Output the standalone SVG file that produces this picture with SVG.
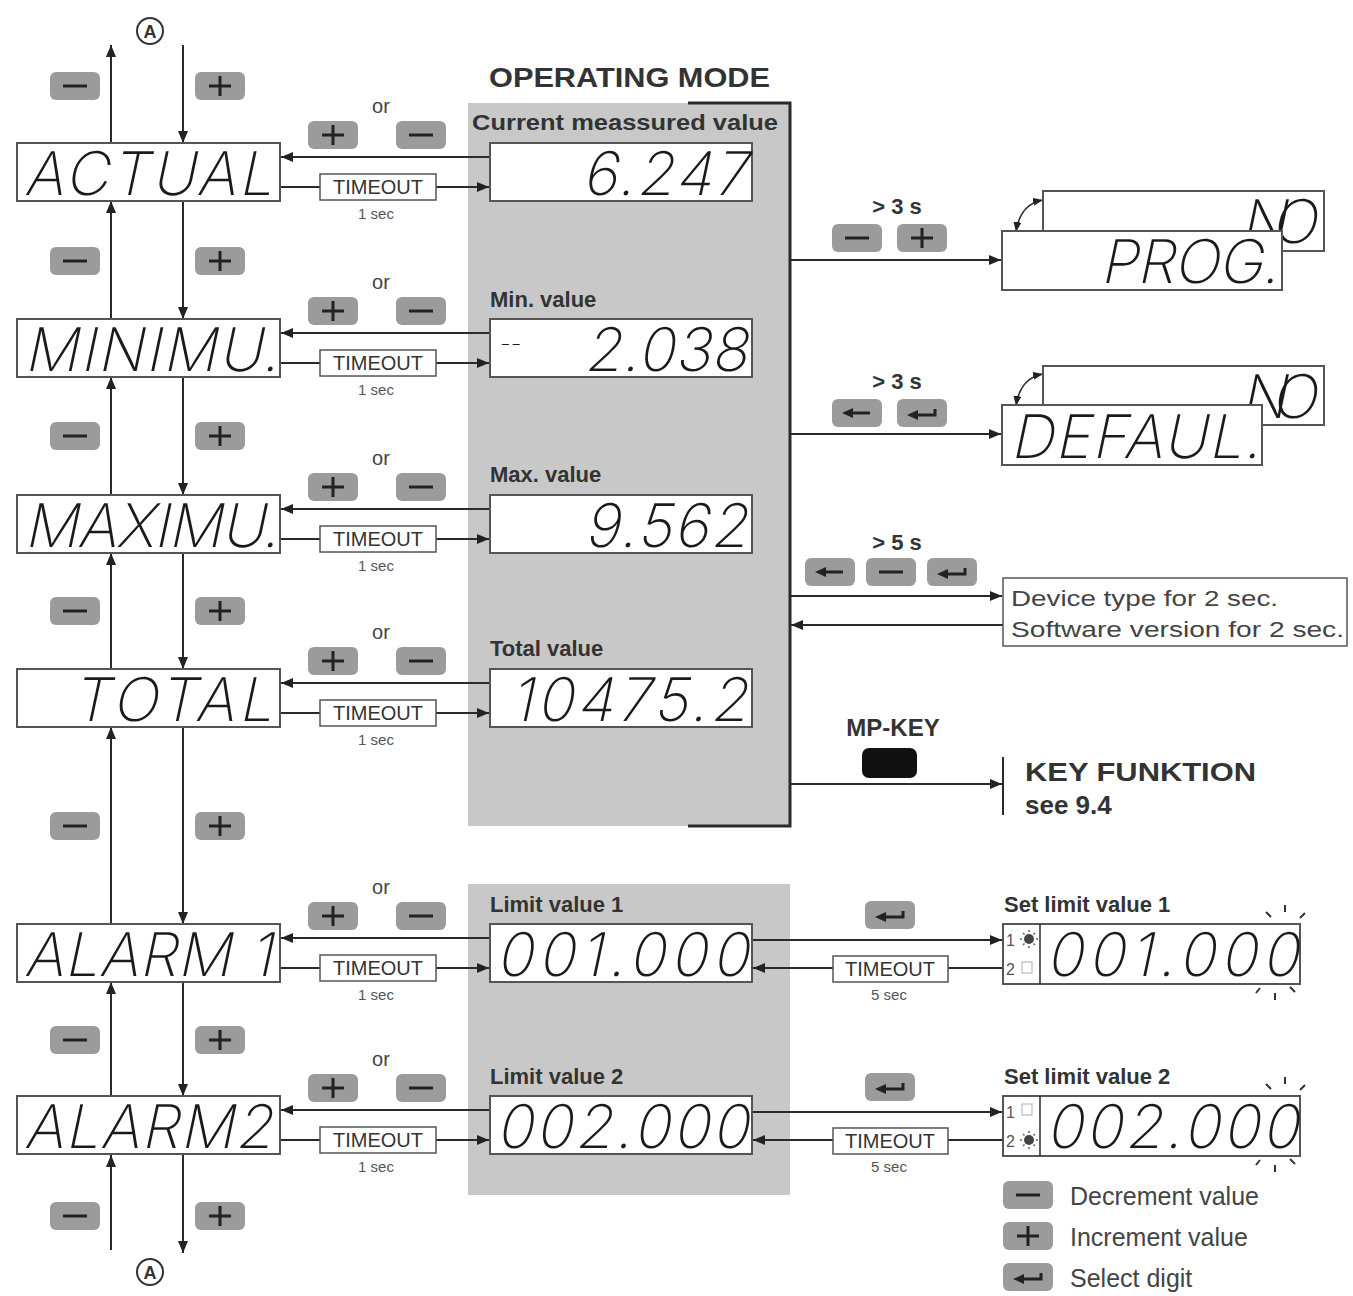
<svg xmlns="http://www.w3.org/2000/svg" xmlns:xlink="http://www.w3.org/1999/xlink" width="1353" height="1296" viewBox="0 0 1353 1296">
<style>
.bg{fill:#ffffff}
.panel{fill:#c8c8c8}
.disp{fill:#ffffff;stroke:#555;stroke-width:2}
.seg{font-family:Inter,"Noto Sans","Liberation Sans",sans-serif;font-weight:200;font-size:60px;fill:#1a1a1a}
.ln{stroke:#2a2a2a;stroke-width:2;fill:none}
.arr{stroke:#2a2a2a;stroke-width:2;fill:none;marker-end:url(#ah)}
.lbl{font-family:"Liberation Sans",Arial,sans-serif;font-weight:bold;font-size:22px;fill:#333}
.or{font-family:"Liberation Sans",Arial,sans-serif;font-size:20px;fill:#444}
.to{fill:#fff;stroke:#555;stroke-width:1.5}
.tot{font-family:"Liberation Sans",Arial,sans-serif;font-size:20px;fill:#333;text-anchor:middle}
.sec{font-family:"Liberation Sans",Arial,sans-serif;font-size:15px;fill:#555;text-anchor:middle}
.txt{font-family:"Liberation Sans",Arial,sans-serif;font-size:22px;fill:#444}
.leg{font-family:"Liberation Sans",Arial,sans-serif;font-size:25px;fill:#444}
.btnr{fill:#9b9b9b}
.ico{stroke:#222;stroke-width:3;fill:none}
</style>
<defs>
<marker id="ah" viewBox="0 0 12 10" refX="12" refY="5" markerWidth="12" markerHeight="10" markerUnits="userSpaceOnUse" orient="auto-start-reverse"><path d="M0,0 L12,5 L0,10 z" fill="#222"/></marker>
<marker id="ahs" viewBox="0 0 10 8" refX="10" refY="4" markerWidth="10" markerHeight="8" markerUnits="userSpaceOnUse" orient="auto-start-reverse"><path d="M0,0 L10,4 L0,8 z" fill="#222"/></marker>
<symbol id="bminus" viewBox="0 0 50 28" width="50" height="28"><rect class="btnr" x="0" y="0" width="50" height="28" rx="6"/><path class="ico" d="M13,14 H37"/></symbol>
<symbol id="bplus" viewBox="0 0 50 28" width="50" height="28"><rect class="btnr" x="0" y="0" width="50" height="28" rx="6"/><path class="ico" d="M14,14 H36 M25,4 V24"/></symbol>
<symbol id="bleft" viewBox="0 0 50 28" width="50" height="28"><rect class="btnr" x="0" y="0" width="50" height="28" rx="6"/><path d="M20,14 H38" class="ico"/><path d="M10,14 L21,9 L21,19 z" fill="#222"/></symbol>
<symbol id="benter" viewBox="0 0 50 28" width="50" height="28"><rect class="btnr" x="0" y="0" width="50" height="28" rx="6"/><path d="M20,16 H38 V10" class="ico"/><path d="M10,16 L21,11 L21,21 z" fill="#222"/></symbol>
</defs>
<rect class="bg" x="0" y="0" width="1353" height="1296"/>

<g id="panels">
<rect class="panel" x="468" y="103" width="322" height="723"/>
<rect class="panel" x="468" y="884" width="322" height="311"/>
<path class="ln" d="M688,103 H790 V826 H688" style="stroke-width:3"/>
<text class="lbl" x="489" y="87" style="font-size:27px" textLength="281" lengthAdjust="spacingAndGlyphs">OPERATING MODE</text>
</g>

<g id="connectors">
<path class="arr" d="M111,143 V45"/>
<path class="arr" d="M183,45 V143"/>
<path class="arr" d="M111,319 V201"/>
<path class="arr" d="M183,201 V319"/>
<path class="arr" d="M111,495 V377"/>
<path class="arr" d="M183,377 V495"/>
<path class="arr" d="M111,669 V553"/>
<path class="arr" d="M183,553 V669"/>
<path class="arr" d="M111,924 V727"/>
<path class="arr" d="M183,727 V924"/>
<path class="arr" d="M111,1096 V982"/>
<path class="arr" d="M183,982 V1096"/>
<path class="arr" d="M111,1250 V1155"/>
<path class="arr" d="M183,1155 V1253"/>
<path class="arr" d="M490,157 H281"/>
<path class="arr" d="M280,187 H489"/>
<path class="arr" d="M490,333 H281"/>
<path class="arr" d="M280,363 H489"/>
<path class="arr" d="M490,509 H281"/>
<path class="arr" d="M280,539 H489"/>
<path class="arr" d="M490,683 H281"/>
<path class="arr" d="M280,713 H489"/>
<path class="arr" d="M490,938 H281"/>
<path class="arr" d="M280,968 H489"/>
<path class="arr" d="M490,1110 H281"/>
<path class="arr" d="M280,1140 H489"/>
<path class="arr" d="M790,260 H1001"/>
<path class="arr" d="M790,434 H1001"/>
<path class="arr" d="M790,596 H1002"/>
<path class="arr" d="M1003,625 H791"/>
<path class="arr" d="M790,784 H1002"/>
<path class="ln" d="M1003,757 V815"/>
<path class="arr" d="M752,940 H1002"/>
<path class="arr" d="M1003,968 H753"/>
<path class="arr" d="M752,1112 H1002"/>
<path class="arr" d="M1003,1140 H753"/>
<path class="ln" d="M1016,232 Q1020,204 1043,200" style="marker-start:url(#ahs);marker-end:url(#ahs);stroke-width:1.5"/>
<path class="ln" d="M1016,406 Q1020,378 1043,374" style="marker-start:url(#ahs);marker-end:url(#ahs);stroke-width:1.5"/>
</g>

<g id="buttons">
<use href="#bminus" x="50" y="72"/><use href="#bplus" x="195" y="72"/>
<use href="#bminus" x="50" y="247"/><use href="#bplus" x="195" y="247"/>
<use href="#bminus" x="50" y="422"/><use href="#bplus" x="195" y="422"/>
<use href="#bminus" x="50" y="597"/><use href="#bplus" x="195" y="597"/>
<use href="#bminus" x="50" y="812"/><use href="#bplus" x="195" y="812"/>
<use href="#bminus" x="50" y="1026"/><use href="#bplus" x="195" y="1026"/>
<use href="#bminus" x="50" y="1202"/><use href="#bplus" x="195" y="1202"/>
<use href="#bplus" x="308" y="121"/><use href="#bminus" x="396" y="121"/>
<use href="#bplus" x="308" y="297"/><use href="#bminus" x="396" y="297"/>
<use href="#bplus" x="308" y="473"/><use href="#bminus" x="396" y="473"/>
<use href="#bplus" x="308" y="647"/><use href="#bminus" x="396" y="647"/>
<use href="#bplus" x="308" y="902"/><use href="#bminus" x="396" y="902"/>
<use href="#bplus" x="308" y="1074"/><use href="#bminus" x="396" y="1074"/>
<use href="#bminus" x="832" y="224"/><use href="#bplus" x="897" y="224"/>
<use href="#bleft" x="832" y="399"/><use href="#benter" x="897" y="399"/>
<use href="#bleft" x="805" y="558"/><use href="#bminus" x="866" y="558"/><use href="#benter" x="927" y="558"/>
<use href="#benter" x="865" y="901"/>
<use href="#benter" x="865" y="1073"/>
</g>

<g id="labels">
<text class="or" x="381" y="113" text-anchor="middle">or</text>
<text class="or" x="381" y="289" text-anchor="middle">or</text>
<text class="or" x="381" y="465" text-anchor="middle">or</text>
<text class="or" x="381" y="639" text-anchor="middle">or</text>
<text class="or" x="381" y="894" text-anchor="middle">or</text>
<text class="or" x="381" y="1066" text-anchor="middle">or</text>
<text class="lbl" x="472" y="130" textLength="306" lengthAdjust="spacingAndGlyphs">Current meassured value</text>
<text class="lbl" x="490" y="307">Min. value</text>
<text class="lbl" x="490" y="482">Max. value</text>
<text class="lbl" x="490" y="656">Total value</text>
<text class="lbl" x="490" y="912">Limit value 1</text>
<text class="lbl" x="490" y="1084">Limit value 2</text>
<text class="lbl" x="897" y="214" text-anchor="middle">&gt; 3 s</text>
<text class="lbl" x="897" y="389" text-anchor="middle">&gt; 3 s</text>
<text class="lbl" x="897" y="550" text-anchor="middle">&gt; 5 s</text>
<text class="lbl" x="893" y="736" text-anchor="middle" style="font-size:24px">MP-KEY</text>
<rect x="862" y="748" width="55" height="30" rx="7" fill="#111"/>
<text class="lbl" x="1025" y="781" style="font-size:26px" textLength="231" lengthAdjust="spacingAndGlyphs">KEY FUNKTION</text>
<text class="lbl" x="1025" y="814" style="font-size:26px">see 9.4</text>
<text class="lbl" x="1004" y="912">Set limit value 1</text>
<text class="lbl" x="1004" y="1084">Set limit value 2</text>
</g>

<g id="timeouts">
<rect class="to" x="320" y="174" width="116" height="26"/><text class="tot" x="378" y="194">TIMEOUT</text><text class="sec" x="376" y="219">1 sec</text>
<rect class="to" x="320" y="350" width="116" height="26"/><text class="tot" x="378" y="370">TIMEOUT</text><text class="sec" x="376" y="395">1 sec</text>
<rect class="to" x="320" y="526" width="116" height="26"/><text class="tot" x="378" y="546">TIMEOUT</text><text class="sec" x="376" y="571">1 sec</text>
<rect class="to" x="320" y="700" width="116" height="26"/><text class="tot" x="378" y="720">TIMEOUT</text><text class="sec" x="376" y="745">1 sec</text>
<rect class="to" x="320" y="955" width="116" height="26"/><text class="tot" x="378" y="975">TIMEOUT</text><text class="sec" x="376" y="1000">1 sec</text>
<rect class="to" x="320" y="1127" width="116" height="26"/><text class="tot" x="378" y="1147">TIMEOUT</text><text class="sec" x="376" y="1172">1 sec</text>
<rect class="to" x="833" y="956" width="115" height="26"/><text class="tot" x="890" y="976">TIMEOUT</text><text class="sec" x="889" y="1000">5 sec</text>
<rect class="to" x="833" y="1128" width="115" height="26"/><text class="tot" x="890" y="1148">TIMEOUT</text><text class="sec" x="889" y="1172">5 sec</text>
</g>

<g id="circleA">
<circle cx="150" cy="31" r="13" fill="#fff" stroke="#333" stroke-width="2"/>
<text x="150" y="38" text-anchor="middle" style="font-family:'Liberation Sans',Arial,sans-serif;font-weight:bold;font-size:18px;fill:#333">A</text>
<circle cx="150" cy="1272" r="13" fill="#fff" stroke="#333" stroke-width="2"/>
<text x="150" y="1279" text-anchor="middle" style="font-family:'Liberation Sans',Arial,sans-serif;font-weight:bold;font-size:18px;fill:#333">A</text>
</g>

<g id="node-actual"><rect class="disp" x="17" y="143" width="263" height="58"/><text class="seg" transform="translate(24,195) skewX(-12)" textLength="248" lengthAdjust="spacing">ACTUAL</text></g>
<g id="node-minimu"><rect class="disp" x="17" y="319" width="263" height="58"/><text class="seg" transform="translate(24,371) skewX(-12)" textLength="254" lengthAdjust="spacing">MINIMU.</text></g>
<g id="node-maximu"><rect class="disp" x="17" y="495" width="263" height="58"/><text class="seg" transform="translate(24,547) skewX(-12)" textLength="254" lengthAdjust="spacing">MAXIMU.</text></g>
<g id="node-total"><rect class="disp" x="17" y="669" width="263" height="58"/><text class="seg" transform="translate(72,721) skewX(-12)" textLength="200" lengthAdjust="spacing">TOTAL</text></g>
<g id="node-alarm1"><rect class="disp" x="17" y="924" width="263" height="58"/><text class="seg" transform="translate(24,976) skewX(-12)" textLength="248" lengthAdjust="spacing">ALARM 1</text></g>
<g id="node-alarm2"><rect class="disp" x="17" y="1096" width="263" height="58"/><text class="seg" transform="translate(24,1148) skewX(-12)" textLength="248" lengthAdjust="spacing">ALARM2</text></g>

<g id="node-current"><rect class="disp" x="490" y="143" width="262" height="58"/><text class="seg" transform="translate(582,195) skewX(-12)" textLength="165" lengthAdjust="spacing">6.247</text></g>
<g id="node-min"><rect class="disp" x="490" y="319" width="262" height="58"/><text class="seg" transform="translate(500,352)" style="font-size:24px">--</text><text class="seg" transform="translate(584,371) skewX(-12)" textLength="163" lengthAdjust="spacing">2.038</text></g>
<g id="node-max"><rect class="disp" x="490" y="495" width="262" height="58"/><text class="seg" transform="translate(584,547) skewX(-12)" textLength="163" lengthAdjust="spacing">9.562</text></g>
<g id="node-totalval"><rect class="disp" x="490" y="669" width="262" height="58"/><text class="seg" transform="translate(510,721) skewX(-12)" textLength="237" lengthAdjust="spacing">10475.2</text></g>
<g id="node-limit1"><rect class="disp" x="490" y="924" width="262" height="58"/><text class="seg" transform="translate(496,976) skewX(-12)" textLength="252" lengthAdjust="spacing">001.000</text></g>
<g id="node-limit2"><rect class="disp" x="490" y="1096" width="262" height="58"/><text class="seg" transform="translate(496,1148) skewX(-12)" textLength="252" lengthAdjust="spacing">002.000</text></g>

<g id="node-prog">
<rect class="disp" x="1043" y="191" width="281" height="60"/><text class="seg" transform="translate(1240,243) skewX(-12)" textLength="76" lengthAdjust="spacing">NO</text>
<rect class="disp" x="1002" y="231" width="280" height="59"/><text class="seg" transform="translate(1100,283) skewX(-12)" textLength="178" lengthAdjust="spacing">PROG.</text>
</g>
<g id="node-defaul">
<rect class="disp" x="1043" y="366" width="281" height="59"/><text class="seg" transform="translate(1240,418) skewX(-12)" textLength="76" lengthAdjust="spacing">NO</text>
<rect class="disp" x="1002" y="405" width="260" height="60"/><text class="seg" transform="translate(1010,458) skewX(-12)" textLength="250" lengthAdjust="spacing">DEFAUL.</text>
</g>
<g id="node-device">
<rect class="disp" x="1003" y="578" width="344" height="68" style="stroke-width:1.5"/>
<text class="txt" x="1011" y="606" textLength="267" lengthAdjust="spacingAndGlyphs">Device type for 2 sec.</text>
<text class="txt" x="1011" y="637" textLength="333" lengthAdjust="spacingAndGlyphs">Software version for 2 sec.</text>
</g>

<g id="node-setlimit1">
<rect class="disp" x="1003" y="924" width="297" height="60"/>
<path class="ln" d="M1040,924 V984" style="stroke-width:1.5"/>
<text x="1006" y="946" style="font-family:'Liberation Sans',Arial,sans-serif;font-size:16px;fill:#555">1</text>
<circle cx="1029" cy="939" r="5" fill="#444"/>
<path d="M1029,930 V932 M1029,946 V948 M1020,939 H1022 M1036,939 H1038 M1023,933 L1024.5,934.5 M1033.5,943.5 L1035,945 M1035,933 L1033.5,934.5 M1024.5,943.5 L1023,945" stroke="#666" stroke-width="1.5"/>
<text x="1006" y="975" style="font-family:'Liberation Sans',Arial,sans-serif;font-size:16px;fill:#555">2</text>
<rect x="1022" y="962" width="10" height="11" fill="none" stroke="#bbb" stroke-width="1.2"/>
<text class="seg" transform="translate(1046,976) skewX(-12)" textLength="252" lengthAdjust="spacing">001.000</text>
<path d="M1266,912 L1271,917 M1285,905 V912 M1305,913 L1300,918 M1260,988 L1256,993 M1275,993 V1000 M1290,987 L1295,992" stroke="#333" stroke-width="2"/>
</g>
<g id="node-setlimit2">
<rect class="disp" x="1003" y="1096" width="297" height="60"/>
<path class="ln" d="M1040,1096 V1156" style="stroke-width:1.5"/>
<text x="1006" y="1118" style="font-family:'Liberation Sans',Arial,sans-serif;font-size:16px;fill:#555">1</text>
<rect x="1022" y="1104" width="10" height="11" fill="none" stroke="#bbb" stroke-width="1.2"/>
<text x="1006" y="1147" style="font-family:'Liberation Sans',Arial,sans-serif;font-size:16px;fill:#555">2</text>
<circle cx="1029" cy="1140" r="5" fill="#444"/>
<path d="M1029,1131 V1133 M1029,1147 V1149 M1020,1140 H1022 M1036,1140 H1038 M1023,1134 L1024.5,1135.5 M1033.5,1144.5 L1035,1146 M1035,1134 L1033.5,1135.5 M1024.5,1144.5 L1023,1146" stroke="#666" stroke-width="1.5"/>
<text class="seg" transform="translate(1046,1148) skewX(-12)" textLength="252" lengthAdjust="spacing">002.000</text>
<path d="M1266,1084 L1271,1089 M1285,1077 V1084 M1305,1085 L1300,1090 M1260,1160 L1256,1165 M1275,1165 V1172 M1290,1159 L1295,1164" stroke="#333" stroke-width="2"/>
</g>

<g id="legend">
<use href="#bminus" x="1003" y="1181"/><text class="leg" x="1070" y="1205">Decrement value</text>
<use href="#bplus" x="1003" y="1222"/><text class="leg" x="1070" y="1246">Increment value</text>
<use href="#benter" x="1003" y="1263"/><text class="leg" x="1070" y="1287">Select digit</text>
</g>
</svg>
